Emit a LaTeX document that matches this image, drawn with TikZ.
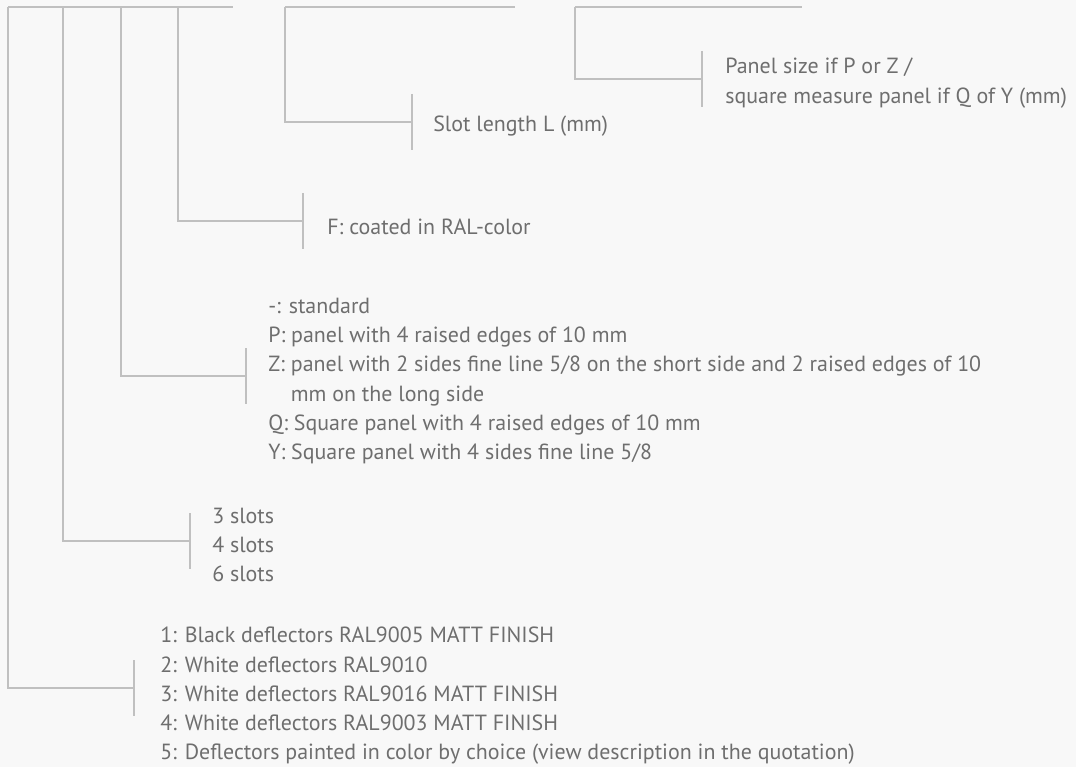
\documentclass[tikz,border=0pt]{standalone}
\usepackage{fontspec}
\setmainfont{PT Sans}
\usepackage{xcolor}
\usetikzlibrary{calc}
\definecolor{bgcol}{HTML}{F8F8F8}
\definecolor{linecol}{HTML}{C0C0C0}
\definecolor{textcol}{HTML}{6E6E6E}

\begin{document}
\begin{tikzpicture}[x=0.025cm, y=-0.025cm,
        guide/.style={draw=linecol, line width=0.9pt},
        lbl/.style={anchor=west, align=left, text=textcol, inner sep=0pt,
            font=\fontsize{15.6}{20.8}\selectfont}]
        % 1. Background (fixes the page size)
        \fill[bgcol] (0,0) rectangle (1076,767);

        % 2. Tops of the stems and free ends of the top bars
        \coordinate (colTop) at (8,7);
        \coordinate (slotTop) at (63,7);
        \coordinate (typeTop) at (121,7);
        \coordinate (finTop) at (178,7);
        \coordinate (barA) at (233,7);
        \coordinate (lenTop) at (285,7);
        \coordinate (barB) at (515,7);
        \coordinate (sizeTop) at (575,7);
        \coordinate (barC) at (802,7);

        % 3. Tick centres (where each stem meets its bracket)
        \coordinate (colTick) at (134,688);
        \coordinate (slotTick) at (190,541);
        \coordinate (typeTick) at (246,376);
        \coordinate (finTick) at (303,221);
        \coordinate (lenTick) at (412,122);
        \coordinate (sizeTick) at (702,79);

        % 4. Top bars
        \draw[guide] (colTop) -- (barA);
        \draw[guide] (lenTop) -- (barB);
        \draw[guide] (sizeTop) -- (barC);

        % 5. Stems down and across to the ticks
        \foreach \s/\t in {colTop/colTick, slotTop/slotTick, typeTop/typeTick,
                finTop/finTick, lenTop/lenTick, sizeTop/sizeTick}{
            \draw[guide] (\s) |- (\t);
        }
        \foreach \t in {colTick, slotTick, typeTick, finTick, lenTick, sizeTick}{
            \draw[guide] ($(\t)+(0,-28)$) -- ($(\t)+(0,28)$);
        }

        % 6. Labels
        \node[lbl] (size) at (725,83) {Panel size if P or Z /\\square measure panel if Q of Y (mm)};
        \node[lbl] (len) at (433,126) {Slot length L (mm)};
        \node[lbl] (fin) at (327,227) {F: coated in RAL-color};
        \node[lbl] (type) at (268,381) {-: standard\\
            P: panel with 4 raised edges of 10 mm\\
            Z: panel with 2 sides fine line 5/8 on the short side and 2 raised edges of 10\\
            \hphantom{Z:\ }mm on the long side\\
            Q: Square panel with 4 raised edges of 10 mm\\
            Y: Square panel with 4 sides fine line 5/8};
        \node[lbl] (slot) at (212,545) {3 slots\\4 slots\\6 slots};
        \node[lbl] (col) at (160,696) {1: Black deflectors RAL9005 MATT FINISH\\
            2: White deflectors RAL9010\\
            3: White deflectors RAL9016 MATT FINISH\\
            4: White deflectors RAL9003 MATT FINISH\\
            5: Deflectors painted in color by choice (view description in the quotation)};
    \end{tikzpicture}
\end{document}
